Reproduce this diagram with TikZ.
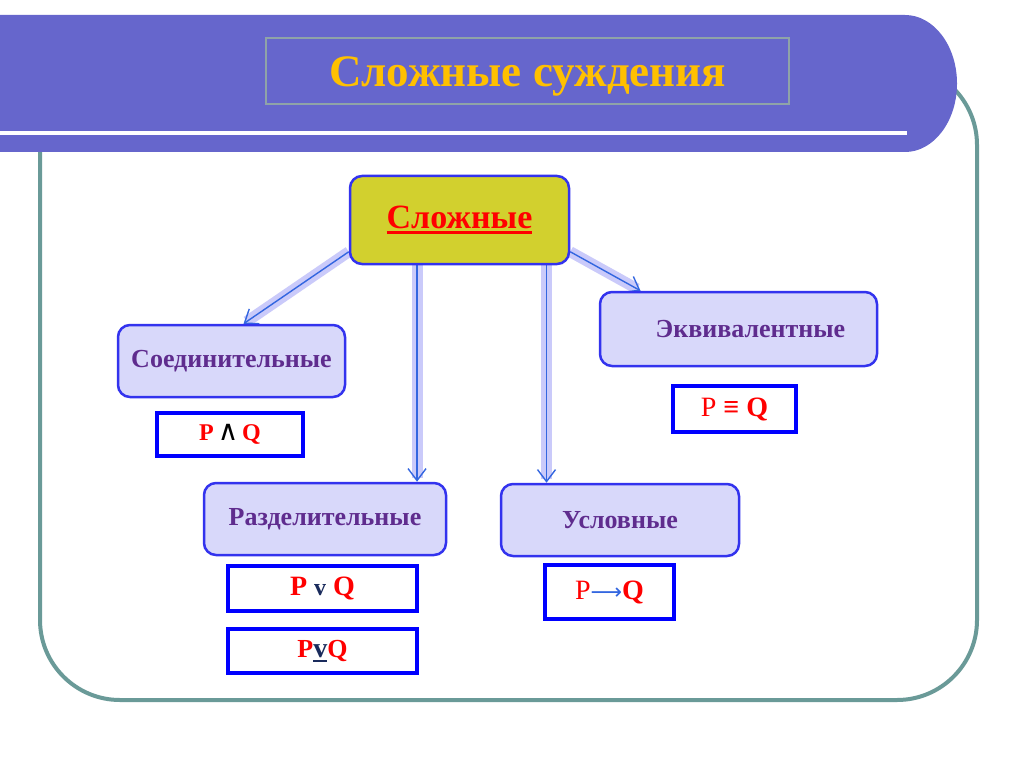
\documentclass[tikz,border=0pt]{standalone}
\usepackage{fontspec}
\setmainfont{Liberation Serif}
\newfontfamily\symfont{DejaVu Sans}
\usetikzlibrary{arrows.meta,positioning,calc,backgrounds}

\definecolor{banner}{HTML}{6666CC}
\definecolor{titlegold}{HTML}{FFC000}
\definecolor{titleedge}{HTML}{8FA3A8}
\definecolor{frameteal}{HTML}{6A9A98}
\definecolor{rootfill}{HTML}{D2D02E}
\definecolor{lilac}{HTML}{D8D8FA}
\definecolor{nodeedge}{HTML}{3333EE}
\definecolor{plum}{HTML}{5F2C8E}
\definecolor{pureblue}{HTML}{0000FF}
\definecolor{arrowblue}{HTML}{3366E0}
\definecolor{glowlilac}{HTML}{B4B4F8}
\definecolor{navy}{HTML}{1A2B5C}

\newcommand\fatuline[1]{\setbox0\hbox{#1}\rlap{\rule[-5pt]{\wd0}{2.5pt}}\box0}

\begin{document}
\begin{tikzpicture}[x=1pt, y=-1pt,
    kind/.style={rectangle, draw=nodeedge, line width=2.5pt, rounded corners=12pt, fill=lilac, text=plum, inner sep=0pt, font=\fontsize{26}{30}\selectfont\bfseries},
    formula/.style={rectangle, draw=pureblue, line width=3.5pt, fill=white, inner sep=0pt, text=red, font=\fontsize{26}{30}\selectfont\bfseries},
    arrow/.style={-{Straight Barb[length=12pt,width=18pt,line width=1.4pt]}, line width=1.4pt, draw=arrowblue, preaction={draw=glowlilac, -, shorten >=4pt, line width=11pt, draw opacity=0.7}}
]
\useasboundingbox (0,0) rectangle (1024,767);

% frame and title banner
\draw[frameteal, line width=4pt, rounded corners=80pt] (40,65) rectangle (977,700);
\fill[banner] (0,15) -- (905,15) arc[start angle=90, end angle=-90, x radius=52pt, y radius=68.5pt] -- (0,152) -- cycle;
\draw[white, line width=4pt] (0,133) -- (907,133);
\node[draw=titleedge, line width=1.5pt, minimum width=523pt, minimum height=66pt, inner sep=0pt, text height=36pt, text depth=4pt, text=titlegold, font=\fontsize{45}{50}\selectfont\bfseries] (title) at (527.5,71) {Сложные суждения};

% kinds of judgements
\node[kind, fill=rootfill, minimum width=219pt, minimum height=88pt, text=red, font=\fontsize{34}{40}\selectfont\bfseries] (root) at (459.5,220) {\fatuline{Сложные}};
\node[kind, minimum width=227pt, minimum height=72pt] (conj) at (231.5,361) {Соединительные};
\node[kind, minimum width=277pt, minimum height=74pt] (equiv) at (738.5,329) {\hspace*{24pt}Эквивалентные};
\node[kind, minimum width=242pt, minimum height=72pt] (disj) at (325,519) {Разделительные};
\node[kind, minimum width=238pt, minimum height=72pt] (cond) at (620,520) {Условные};

% formulas
\node[formula, minimum width=146pt, minimum height=43pt, font=\fontsize{24}{28}\selectfont\bfseries] (fconj) at (230,434.5) {P\,{\symfont\mdseries\fontsize{28}{30}\selectfont\color{black}∧}\,Q};
\node[formula, minimum width=123pt, minimum height=46pt, font=\fontsize{28}{32}\selectfont\bfseries] (fequiv) at (734.5,409) {{\mdseries P} ≡ Q};
\node[formula, minimum width=189pt, minimum height=45pt, font=\fontsize{28}{32}\selectfont\bfseries] (fdisj) at (322.5,588.5) {P {\color{navy}\fontsize{24}{26}\selectfont v} Q};
\node[formula, minimum width=189pt, minimum height=44pt] (fxor) at (322.5,651) {P{\color{navy}\fontsize{28}{30}\selectfont\fatuline{v}}Q};
\node[formula, minimum width=129pt, minimum height=54pt, font=\fontsize{28}{32}\selectfont\bfseries] (fcond) at (609.5,592) {{\mdseries P}{\symfont\mdseries\fontsize{22}{24}\selectfont\color{arrowblue}⟶}Q};

\begin{scope}[on background layer]
\fill[white] (0,0) rectangle (1024,767);
\draw[arrow] (root.196) -- ([xshift=12pt]conj.north);
\draw[arrow] ([xshift=-42.5pt]root.south) -- ([xshift=-42.5pt]root.south |- disj.north);
\draw[arrow] ([xshift=87pt]root.south) -- ([xshift=87pt]root.south |- cond.north);
\draw[arrow] (root.-16) -- ([xshift=-98pt]equiv.north);
\end{scope}
\end{tikzpicture}
\end{document}
